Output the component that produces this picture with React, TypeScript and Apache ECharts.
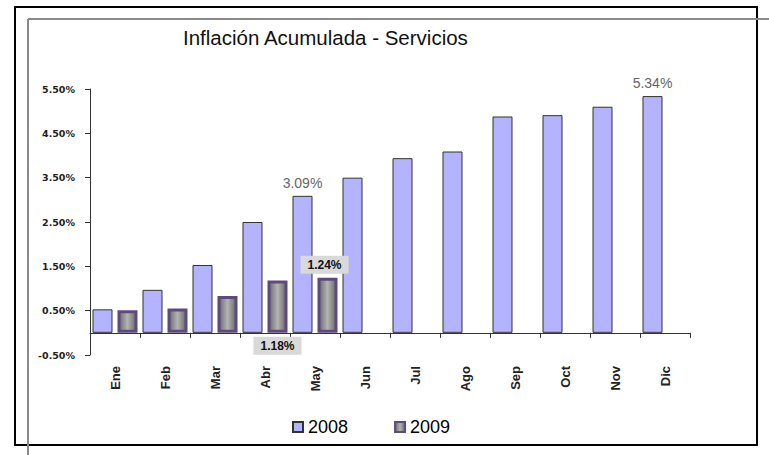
import React, { useEffect, useRef } from "react";
import * as echarts from "echarts";

const categories = ["Ene", "Feb", "Mar", "Abr", "May", "Jun", "Jul", "Ago", "Sep", "Oct", "Nov", "Dic"];
const values2008 = [0.53, 0.97, 1.53, 2.5, 3.09, 3.5, 3.94, 4.09, 4.88, 4.91, 5.1, 5.34];
const values2009: (number | null)[] = [0.51, 0.55, 0.83, 1.18, 1.24, null, null, null, null, null, null, null];
const labeled2008 = ["May", "Dic"];
const labeledTop2009 = ["May"];
const labeledBottom2009 = ["Abr"];
const yTicks = { min: -0.5, max: 5.5, interval: 1 };

const fmt = (v: number) => v.toFixed(2) + "%";

export default function App() {
  const ref = useRef<HTMLDivElement>(null);
  useEffect(() => {
    if (!ref.current) return;
    const chart = echarts.init(ref.current, null, { renderer: "svg" });

    const grayGrad = new echarts.graphic.LinearGradient(0, 0, 1, 0, [
      { offset: 0, color: "#6a6a6a" },
      { offset: 0.5, color: "#b4b4b4" },
      { offset: 1, color: "#6a6a6a" },
    ]);

    const data2008 = values2008.map((v, i) =>
      labeled2008.includes(categories[i])
        ? {
            value: v,
            label: {
              show: true,
              position: "top",
              distance: 6,
              formatter: (p: any) => fmt(p.value),
              color: "#666",
              fontSize: 14,
              fontFamily: "Liberation Sans, Arial, sans-serif",
            },
          }
        : v
    );

    const boxLabel = {
      show: true,
      formatter: (p: any) => fmt(p.value),
      color: "#111",
      fontSize: 12,
      fontWeight: "bold",
      fontFamily: "Liberation Sans, Arial, sans-serif",
      backgroundColor: "#d9d9d9",
      padding: [3, 7, 3, 7],
    };

    const data2009 = values2009.map((v, i) => {
      if (v == null) return v;
      if (labeledTop2009.includes(categories[i]))
        return { value: v, label: { ...boxLabel, position: "top", distance: 4, offset: [-3, 0] } };
      if (labeledBottom2009.includes(categories[i]))
        return { value: v, label: { ...boxLabel, position: "bottom", distance: 4 } };
      return v;
    });

    chart.setOption({
      animation: false,
      backgroundColor: "#fff",
      title: {
        text: "Inflación Acumulada - Servicios",
        left: 178,
        top: 22,
        textStyle: {
          fontFamily: "Liberation Sans, Arial, sans-serif",
          fontSize: 20.5,
          fontWeight: "normal",
          color: "#111",
        },
      },
      legend: {
        left: 287,
        top: 413,
        itemWidth: 10,
        itemHeight: 10,
        itemGap: 46,
        icon: "rect",
        textStyle: {
          fontFamily: "Liberation Sans, Arial, sans-serif",
          fontSize: 18,
          color: "#000",
        },
        data: ["2008", "2009"],
      },
      grid: { left: 90, right: 79, top: 89, bottom: 100, containLabel: false },
      xAxis: {
        type: "category",
        data: categories,
        axisLine: { onZero: true, lineStyle: { color: "#333", width: 1 } },
        axisTick: { show: true, length: 5, lineStyle: { color: "#333" } },
        axisLabel: {
          rotate: 90,
          margin: 11,
          fontFamily: "Liberation Sans, Arial, sans-serif",
          fontSize: 13,
          fontWeight: "bold",
          color: "#222",
        },
      },
      yAxis: {
        type: "value",
        min: yTicks.min,
        max: yTicks.max,
        interval: yTicks.interval,
        splitLine: { show: false },
        axisLine: { show: true, lineStyle: { color: "#333" } },
        axisTick: { show: true, length: 5, lineStyle: { color: "#333" } },
        axisLabel: {
          formatter: (v: number) => fmt(v),
          margin: 15,
          fontFamily: "DejaVu Sans, Verdana, sans-serif",
          fontSize: 9.5,
          fontWeight: "bold",
          color: "#222",
        },
      },
      series: [
        {
          name: "2008",
          type: "bar",
          data: data2008,
          barWidth: 20,
          barGap: "25%",
          itemStyle: { color: "#b3b3ff", borderColor: "#333", borderWidth: 1 },
        },
        {
          name: "2009",
          type: "bar",
          data: data2009,
          barWidth: 20,
          itemStyle: { color: grayGrad, borderColor: "#5e4b7e", borderWidth: 3 },
        },
      ],
      graphic: [
        {
          type: "rect",
          shape: { x: 15, y: 7, width: 742, height: 438 },
          style: { fill: "none", stroke: "#000", lineWidth: 2 },
          silent: true,
          z: 100,
        },
        {
          type: "line",
          shape: { x1: 28, y1: 19, x2: 28, y2: 455 },
          style: { stroke: "#8a8a8a", lineWidth: 2 },
          silent: true,
          z: 100,
        },
        {
          type: "line",
          shape: { x1: 28, y1: 19, x2: 769, y2: 19 },
          style: { stroke: "#8a8a8a", lineWidth: 2 },
          silent: true,
          z: 100,
        },
      ],
    });
    return () => chart.dispose();
  }, []);
  return <div ref={ref} style={{ width: 769, height: 455, position: "fixed", left: 0, top: 0 }} />;
}
